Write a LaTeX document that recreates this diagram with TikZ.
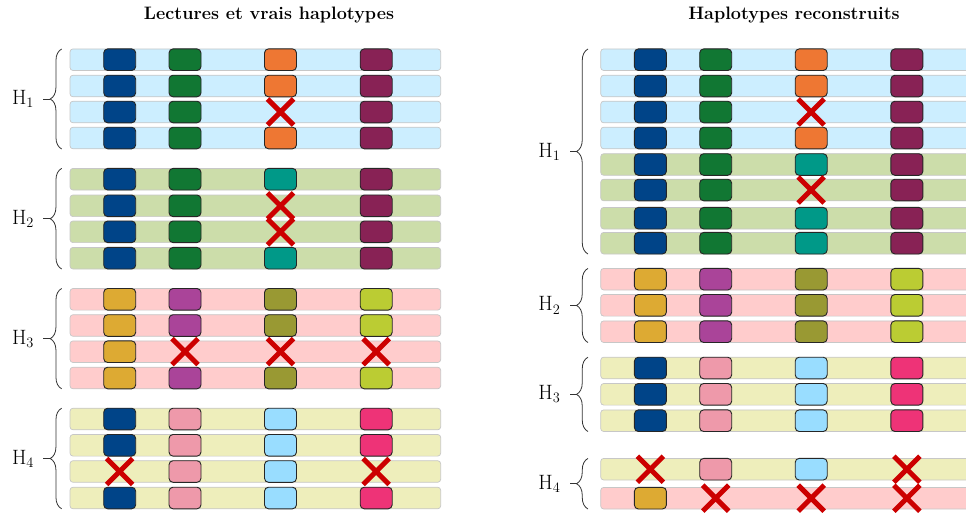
\documentclass[tikz,border=0pt]{standalone}
\usepackage{tikz}
\usetikzlibrary{positioning,decorations.pathreplacing}
\definecolor{BarBlue}{HTML}{CCEEFF}
\definecolor{BarGreen}{HTML}{CCDDAA}
\definecolor{BarPink}{HTML}{FFCCCC}
\definecolor{BarYellow}{HTML}{EEEEBB}
\definecolor{Navy}{HTML}{004488}
\definecolor{Forest}{HTML}{117733}
\definecolor{Orange}{HTML}{EE7733}
\definecolor{Wine}{HTML}{882255}
\definecolor{Teal}{HTML}{009988}
\definecolor{Gold}{HTML}{DDAA33}
\definecolor{Plum}{HTML}{AA4499}
\definecolor{Olive}{HTML}{999933}
\definecolor{Pear}{HTML}{BBCC33}
\definecolor{Rose}{HTML}{EE99AA}
\definecolor{Sky}{HTML}{99DDFF}
\definecolor{Cerise}{HTML}{EE3377}
\definecolor{XRed}{HTML}{CC0000}
\tikzset{
 read/.style={draw=black!22,line width=.7pt,rounded corners=3pt},
 allele/.style={draw=black!85,line width=.9pt,rounded corners=4pt},
 miss/.style={draw=XRed,line width=5pt},
 hbrace/.style={decorate,decoration={brace,amplitude=11.5pt},draw=black!80,line width=.8pt},
 stem/.style={draw=black!80,line width=.8pt},
 hlab/.style={font=\fontsize{20}{24}\selectfont,inner sep=0pt},
 head/.style={font=\fontsize{18}{22}\selectfont\bfseries},
}
\def\nix{x}
% one position of a read: a coloured allele, or x for an error
\newcommand{\cell}[3]{\def\tmpcol{#3}%
 \ifx\tmpcol\nix\draw[miss](#1-13,#2-13)--(#1+13,#2+13)(#1-13,#2+13)--(#1+13,#2-13);%
 \else\filldraw[allele,fill=#3](#1-16,#2-10.8)rectangle(#1+16,#2+10.8);\fi}
% a read: x, y, bar colour, four alleles
\newcommand{\lect}[7]{\filldraw[read,fill=#3](#1,#2-10.8)rectangle(#1+370.7,#2+10.8);
 \cell{#1+49.7}{#2}{#4}\cell{#1+115}{#2}{#5}\cell{#1+210.5}{#2}{#6}\cell{#1+306.2}{#2}{#7}}
% brace with its label: name, x, top, bottom, index
\newcommand{\haplo}[5]{\coordinate(#1t)at(#2,#3);\coordinate(#1b)at(#2,#4);
 \draw[hbrace](#1b)--(#1t);
 \coordinate(#1m)at(#2-11.5,{(#3+#4)/2});
 \draw[stem](#1m)--++(-7,0)coordinate(#1d);
 \node[hlab,left=9pt of #1d](#1l){$\mathrm{H}_{#5}$};}

\begin{document}
\begin{tikzpicture}[x=1pt,y=-1pt]
 \clip(0,0)rectangle(966,514);
 \node[head](titleL)at(269,15){Lectures et vrais haplotypes};
 \node[head](titleR)at(794,15){Haplotypes reconstruits};
 % lectures
 \lect{70}{59.7}{BarBlue}{Navy}{Forest}{Orange}{Wine}
 \lect{70}{86}{BarBlue}{Navy}{Forest}{Orange}{Wine}
 \lect{70}{112}{BarBlue}{Navy}{Forest}{x}{Wine}
 \lect{70}{138}{BarBlue}{Navy}{Forest}{Orange}{Wine}
 \lect{70}{179.2}{BarGreen}{Navy}{Forest}{Teal}{Wine}
 \lect{70}{205.8}{BarGreen}{Navy}{Forest}{x}{Wine}
 \lect{70}{231.8}{BarGreen}{Navy}{Forest}{x}{Wine}
 \lect{70}{258.2}{BarGreen}{Navy}{Forest}{Teal}{Wine}
 \lect{70}{299.3}{BarPink}{Gold}{Plum}{Olive}{Pear}
 \lect{70}{325.5}{BarPink}{Gold}{Plum}{Olive}{Pear}
 \lect{70}{351.7}{BarPink}{Gold}{x}{x}{x}
 \lect{70}{378}{BarPink}{Gold}{Plum}{Olive}{Pear}
 \lect{70}{419}{BarYellow}{Navy}{Rose}{Sky}{Cerise}
 \lect{70}{445.3}{BarYellow}{Navy}{Rose}{Sky}{Cerise}
 \lect{70}{471.5}{BarYellow}{x}{Rose}{Sky}{x}
 \lect{70}{498}{BarYellow}{Navy}{Rose}{Sky}{Cerise}
 \haplo{a1}{61.7}{49}{149}{1}
 \haplo{a2}{61.7}{168.4}{269}{2}
 \haplo{a3}{61.7}{288.5}{388.8}{3}
 \haplo{a4}{61.7}{408.2}{508.8}{4}
 % reconstruits
 \lect{600.7}{59.7}{BarBlue}{Navy}{Forest}{Orange}{Wine}
 \lect{600.7}{86}{BarBlue}{Navy}{Forest}{Orange}{Wine}
 \lect{600.7}{112}{BarBlue}{Navy}{Forest}{x}{Wine}
 \lect{600.7}{138}{BarBlue}{Navy}{Forest}{Orange}{Wine}
 \lect{600.7}{164.5}{BarGreen}{Navy}{Forest}{Teal}{Wine}
 \lect{600.7}{190}{BarGreen}{Navy}{Forest}{x}{Wine}
 \lect{600.7}{218.2}{BarGreen}{Navy}{Forest}{Teal}{Wine}
 \lect{600.7}{243.2}{BarGreen}{Navy}{Forest}{Teal}{Wine}
 \lect{600.7}{279.2}{BarPink}{Gold}{Plum}{Olive}{Pear}
 \lect{600.7}{305.3}{BarPink}{Gold}{Plum}{Olive}{Pear}
 \lect{600.7}{331.7}{BarPink}{Gold}{Plum}{Olive}{Pear}
 \lect{600.7}{368}{BarYellow}{Navy}{Rose}{Sky}{Cerise}
 \lect{600.7}{394.3}{BarYellow}{Navy}{Rose}{Sky}{Cerise}
 \lect{600.7}{420.7}{BarYellow}{Navy}{Rose}{Sky}{Cerise}
 \lect{600.7}{469.2}{BarYellow}{x}{Rose}{Sky}{x}
 \lect{600.7}{498.2}{BarPink}{Gold}{x}{x}{x}
 \haplo{b1}{588}{49}{254}{1}
 \haplo{b2}{588}{268.4}{342.5}{2}
 \haplo{b3}{588}{357.2}{431.5}{3}
 \haplo{b4}{588}{458.4}{509}{4}
\end{tikzpicture}
\end{document}
